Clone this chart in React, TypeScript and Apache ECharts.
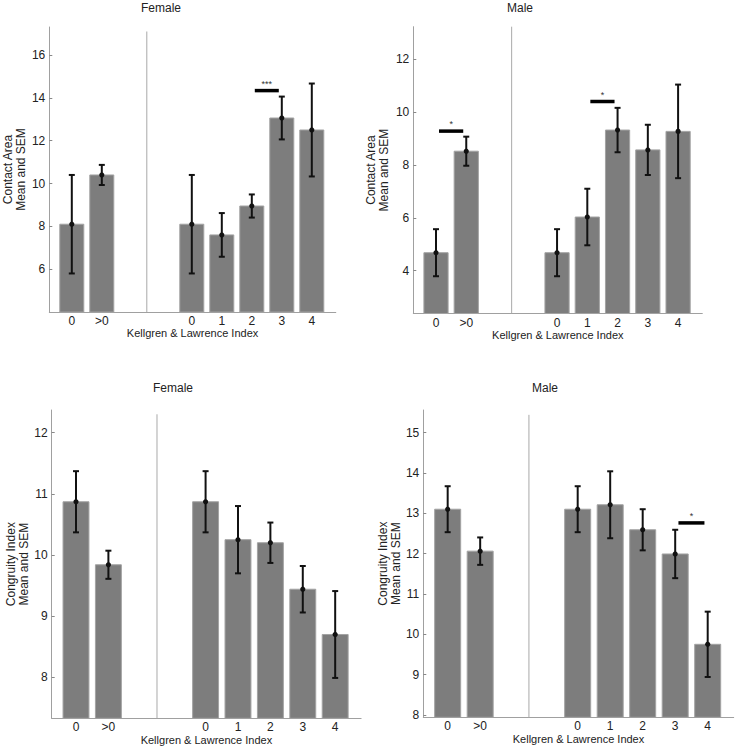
import React, { useEffect, useRef } from "react";
import * as echarts from "echarts";

// ---- data ----
const categories = ["0", ">0", "0", "1", "2", "3", "4"];
const slotPositions = [1, 2, 5, 6, 7, 8, 9]; // x slot of each category (gap between groups)

const femaleContactMean = [8.1, 10.4, 8.1, 7.6, 8.95, 13.06, 12.5];
const femaleContactSem = [2.3, 0.47, 2.3, 1.02, 0.54, 1.0, 2.17];

const maleContactMean = [4.68, 8.52, 4.68, 6.03, 9.32, 8.57, 9.27];
const maleContactSem = [0.89, 0.55, 0.89, 1.07, 0.84, 0.95, 1.77];

const femaleCongruityMean = [10.87, 9.84, 10.87, 10.25, 10.2, 9.44, 8.7];
const femaleCongruitySem = [0.5, 0.23, 0.5, 0.55, 0.33, 0.38, 0.71];

const maleCongruityMean = [13.1, 12.06, 13.1, 13.21, 12.59, 11.99, 9.75];
const maleCongruitySem = [0.57, 0.34, 0.57, 0.83, 0.51, 0.6, 0.81];

// significance bars: [fromCategoryIndex, toCategoryIndex, yValue, label]
const femaleContactSig: [number, number, number, string][] = [[4, 5, 14.34, "***"]];
const maleContactSig: [number, number, number, string][] = [
  [0, 1, 9.28, "*"],
  [3, 4, 10.4, "*"],
];
const femaleCongruitySig: [number, number, number, string][] = [];
const maleCongruitySig: [number, number, number, string][] = [[5, 6, 12.76, "*"]];

const femaleContactTicks = [6, 8, 10, 12, 14, 16];
const maleContactTicks = [4, 6, 8, 10, 12];
const femaleCongruityTicks = [8, 9, 10, 11, 12];
const maleCongruityTicks = [8, 9, 10, 11, 12, 13, 14, 15];

const xAxisTitle = "Kellgren & Lawrence Index";

const FONT = "'Liberation Sans', Arial, Helvetica, sans-serif";
const TEXT = "#222";

const panels = [
  {
    title: "Female", yName: "Contact Area\nMean and SEM",
    mean: femaleContactMean, sem: femaleContactSem, sig: femaleContactSig, ticks: femaleContactTicks,
    yMin: 4, yMax: 17.31, divTop: 17.1,
    left: 49.3, top: 27, width: 286.5, height: 285, titleX: 161, titleY: 8, nameGap: 22,
  },
  {
    title: "Male", yName: "Contact Area\nMean and SEM",
    mean: maleContactMean, sem: maleContactSem, sig: maleContactSig, ticks: maleContactTicks,
    yMin: 2.38, yMax: 13.23, divTop: 13.23,
    left: 413.3, top: 26.7, width: 289, height: 286.8, titleX: 520, titleY: 8, nameGap: 23,
  },
  {
    title: "Female", yName: "Congruity Index\nMean and SEM",
    mean: femaleCongruityMean, sem: femaleCongruitySem, sig: femaleCongruitySig, ticks: femaleCongruityTicks,
    yMin: 7.33, yMax: 12.37, divTop: 12.3,
    left: 51.7, top: 410, width: 309.4, height: 308.3, titleX: 173, titleY: 388, nameGap: 20,
  },
  {
    title: "Male", yName: "Congruity Index\nMean and SEM",
    mean: maleCongruityMean, sem: maleCongruitySem, sig: maleCongruitySig, ticks: maleCongruityTicks,
    yMin: 7.94, yMax: 15.56, divTop: 15.44,
    left: 423.3, top: 410, width: 310.4, height: 307.3, titleX: 545, titleY: 388, nameGap: 20,
  },
];

function labelFor(v: number) {
  const i = slotPositions.findIndex((p) => Math.abs(p - v) < 1e-6);
  return i >= 0 ? categories[i] : "";
}

function buildOption() {
  const series: any[] = [];
  panels.forEach((p, pi) => {
    // divider
    series.push({
      type: "custom",
      xAxisIndex: pi,
      yAxisIndex: pi,
      silent: true,
      data: [[3.5, p.divTop]],
      renderItem: (params: any, api: any) => {
        const cs = params.coordSys;
        const pt = api.coord([api.value(0), api.value(1)]);
        return {
          type: "line",
          shape: { x1: pt[0], y1: pt[1], x2: pt[0], y2: cs.y + cs.height },
          style: { stroke: "#a9a9a9", lineWidth: 1 },
        };
      },
    });
    // bars with error bars
    series.push({
      type: "custom",
      xAxisIndex: pi,
      yAxisIndex: pi,
      silent: true,
      data: p.mean.map((m, i) => [slotPositions[i], m, p.sem[i]]),
      renderItem: (params: any, api: any) => {
        const cs = params.coordSys;
        const x = api.value(0);
        const m = api.value(1);
        const s = api.value(2);
        const tl = api.coord([x - 0.4, m]);
        const tr = api.coord([x + 0.4, m]);
        const bottom = cs.y + cs.height;
        const c = api.coord([x, m]);
        const hi = api.coord([x, m + s]);
        const lo = api.coord([x, m - s]);
        const cap = 3;
        return {
          type: "group",
          children: [
            {
              type: "rect",
              shape: { x: tl[0], y: tl[1], width: tr[0] - tl[0], height: bottom - tl[1] },
              style: { fill: "#7d7d7d", stroke: "#a3a3a3", lineWidth: 1 },
            },
            {
              type: "line",
              shape: { x1: c[0], y1: hi[1], x2: c[0], y2: lo[1] },
              style: { stroke: "#111", lineWidth: 2 },
            },
            {
              type: "line",
              shape: { x1: c[0] - cap, y1: hi[1], x2: c[0] + cap, y2: hi[1] },
              style: { stroke: "#111", lineWidth: 2 },
            },
            {
              type: "line",
              shape: { x1: c[0] - cap, y1: lo[1], x2: c[0] + cap, y2: lo[1] },
              style: { stroke: "#111", lineWidth: 2 },
            },
            {
              type: "circle",
              shape: { cx: c[0], cy: c[1], r: 2.6 },
              style: { fill: "#111" },
            },
          ],
        };
      },
    });
    // significance bars
    if (p.sig.length) {
      series.push({
        type: "custom",
        xAxisIndex: pi,
        yAxisIndex: pi,
        silent: true,
        data: p.sig.map((s) => [slotPositions[s[0]] + 0.1, slotPositions[s[1]] - 0.1, s[2], s[3]]),
        renderItem: (params: any, api: any) => {
          const a = api.coord([api.value(0), api.value(2)]);
          const b = api.coord([api.value(1), api.value(2)]);
          const label = p.sig[params.dataIndex][3];
          return {
            type: "group",
            children: [
              {
                type: "line",
                shape: { x1: a[0], y1: a[1], x2: b[0], y2: b[1] },
                style: { stroke: "#000", lineWidth: 3.5 },
              },
              {
                type: "text",
                x: (a[0] + b[0]) / 2,
                y: a[1] - 7,
                style: {
                  text: label,
                  fill: "#333",
                  font: `9px ${FONT}`,
                  align: "center",
                  verticalAlign: "middle",
                },
              },
            ],
          };
        },
      });
    }
  });

  return {
    animation: false,
    textStyle: { fontFamily: FONT },
    graphic: panels.map((p) => ({
      type: "text",
      x: p.titleX,
      y: p.titleY,
      style: {
        text: p.title,
        fill: TEXT,
        font: `12px ${FONT}`,
        align: "center",
        verticalAlign: "middle",
        textAlign: "center",
        textVerticalAlign: "middle",
      },
    })),
    grid: panels.map((p) => ({ left: p.left, top: p.top, width: p.width, height: p.height })),
    xAxis: panels.map((p, i) => ({
      gridIndex: i,
      type: "value",
      min: 0.25,
      max: 9.8,
      splitLine: { show: false },
      axisLine: { onZero: false, lineStyle: { color: "#a0a0a0", width: 1 } },
      axisTick: { show: false },
      axisLabel: {
        customValues: slotPositions,
        formatter: (v: number) => labelFor(v),
        margin: 3,
        fontSize: 12,
        color: TEXT,
        fontFamily: FONT,
      },
      name: xAxisTitle,
      nameLocation: "middle",
      nameGap: 14,
      nameTextStyle: { fontSize: 11, color: TEXT, fontFamily: FONT },
    })),
    yAxis: panels.map((p, i) => ({
      gridIndex: i,
      type: "value",
      min: p.yMin,
      max: p.yMax,
      splitLine: { show: false },
      axisLine: { show: true, onZero: false, lineStyle: { color: "#a0a0a0", width: 1 } },
      axisTick: { show: true, inside: true, length: 3, customValues: p.ticks, lineStyle: { color: "#888" } },
      axisLabel: {
        customValues: p.ticks,
        margin: 4,
        fontSize: 12,
        color: TEXT,
        fontFamily: FONT,
      },
      name: p.yName,
      nameLocation: "middle",
      nameGap: p.nameGap,
      nameTextStyle: { fontSize: 12, color: TEXT, fontFamily: FONT, lineHeight: 13 },
    })),
    series,
  };
}

export default function App() {
  const ref = useRef<HTMLDivElement>(null);
  useEffect(() => {
    if (!ref.current) return;
    const chart = echarts.init(ref.current, undefined, { renderer: "svg" });
    chart.setOption(buildOption() as any);
    return () => chart.dispose();
  }, []);
  return (
    <div
      ref={ref}
      style={{ position: "absolute", left: 0, top: 0, width: 736, height: 750, background: "#fff" }}
    />
  );
}
